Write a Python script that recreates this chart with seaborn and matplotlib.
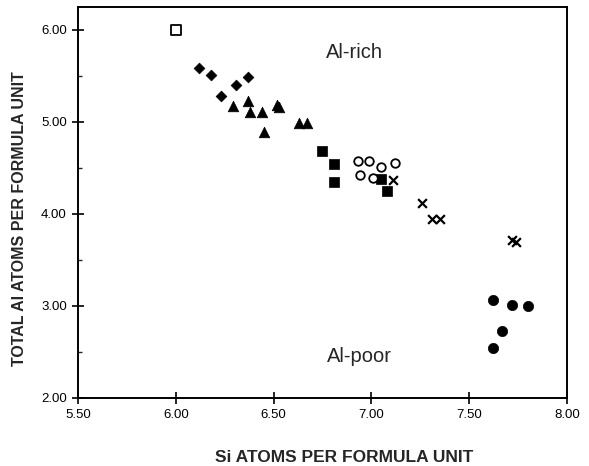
"""
Al vs Si atoms per formula unit scatter, redrawn with seaborn.
"""

import pandas as pd
import matplotlib.pyplot as plt
from matplotlib.ticker import MultipleLocator
import seaborn as sns

# values
open_square_si = [6.00]
open_square_al = [6.00]

diamond_si = [6.12, 6.18, 6.37, 6.31, 6.23]
diamond_al = [5.59, 5.51, 5.49, 5.40, 5.28]

triangle_si = [6.29, 6.37, 6.38, 6.44, 6.52, 6.53, 6.45, 6.63, 6.67]
triangle_al = [5.17, 5.23, 5.11, 5.11, 5.19, 5.16, 4.89, 4.99, 4.99]

filled_square_si = [6.75, 6.81, 6.81, 7.05, 7.08]
filled_square_al = [4.69, 4.54, 4.35, 4.38, 4.25]

open_circle_si = [6.93, 6.99, 7.05, 7.12, 6.94, 7.01]
open_circle_al = [4.58, 4.58, 4.51, 4.55, 4.42, 4.39]

cross_si = [7.11, 7.26, 7.31, 7.35, 7.72, 7.74]
cross_al = [4.37, 4.12, 3.94, 3.94, 3.72, 3.70]

filled_circle_si = [7.62, 7.72, 7.80, 7.67, 7.62]
filled_circle_al = [3.07, 3.01, 3.00, 2.73, 2.54]


def build_frame():
    groups = [
        ("open_square", open_square_si, open_square_al),
        ("diamond", diamond_si, diamond_al),
        ("triangle", triangle_si, triangle_al),
        ("filled_square", filled_square_si, filled_square_al),
        ("open_circle", open_circle_si, open_circle_al),
        ("cross", cross_si, cross_al),
        ("filled_circle", filled_circle_si, filled_circle_al),
    ]
    rows = []
    for name, xs, ys in groups:
        for x, y in zip(xs, ys):
            rows.append({"group": name, "si": x, "al": y})
    return pd.DataFrame(rows)


# marker style per group: (marker, size, facecolor, edgecolor, linewidth)
styles = {
    "open_square": ("s", 48, "white", "black", 1.3),
    "diamond": ("D", 30, "black", "black", 0.5),
    "triangle": ("^", 58, "black", "black", 0.5),
    "filled_square": ("s", 48, "black", "black", 0.5),
    "open_circle": ("o", 38, "white", "black", 1.3),
    "cross": ("x", 40, "black", "black", 1.6),
    "filled_circle": ("o", 55, "black", "black", 0.5),
}


def main():
    sns.set_theme(style="white")
    plt.rcParams["font.family"] = ["Liberation Sans", "DejaVu Sans"]

    df = build_frame()

    fig = plt.figure(figsize=(5.89, 4.66), dpi=100)
    ax = fig.add_axes([0.1324, 0.146, 0.8302, 0.839])

    for name, sub in df.groupby("group", sort=False):
        marker, size, fc, ec, lw = styles[name]
        if marker == "x":
            sns.scatterplot(data=sub, x="si", y="al", marker=marker, s=size,
                            color=ec, linewidth=lw, ax=ax, legend=False)
        else:
            sns.scatterplot(data=sub, x="si", y="al", marker=marker, s=size,
                            facecolor=fc, edgecolor=ec, linewidth=lw, ax=ax,
                            legend=False)

    ax.text(6.914, 5.75, "Al-rich", fontsize=14.5, ha="center", va="center")
    ax.text(6.937, 2.45, "Al-poor", fontsize=14.5, ha="center", va="center")

    ax.set_xlim(5.5, 8.0)
    ax.set_ylim(2.0, 6.25)
    ax.xaxis.set_major_locator(MultipleLocator(0.5))
    ax.yaxis.set_major_locator(MultipleLocator(1.0))
    ax.yaxis.set_minor_locator(MultipleLocator(0.5))
    ax.xaxis.set_major_formatter(lambda v, p: f"{v:.2f}")
    ax.yaxis.set_major_formatter(lambda v, p: f"{v:.2f}")
    ax.tick_params(axis="both", which="major", direction="inout", length=8,
                   width=1.2, labelsize=9.5, colors="black", pad=4)
    ax.tick_params(axis="y", which="minor", direction="in", length=3,
                   width=1, left=True)
    ax.tick_params(axis="x", which="major", bottom=True)
    ax.tick_params(axis="y", which="major", left=True)

    for spine in ax.spines.values():
        spine.set_color("black")
        spine.set_linewidth(1.4)

    ax.set_xlabel("Si ATOMS PER FORMULA UNIT", fontsize=12.5,
                  fontweight="bold")
    ax.set_ylabel("TOTAL Al ATOMS PER FORMULA UNIT", fontsize=11.5,
                  fontweight="bold")
    ax.xaxis.set_label_coords(0.544, -0.133)
    ax.yaxis.set_label_coords(-0.104, 0.459)

    fig.savefig("out.png", dpi=100)


if __name__ == "__main__":
    main()
